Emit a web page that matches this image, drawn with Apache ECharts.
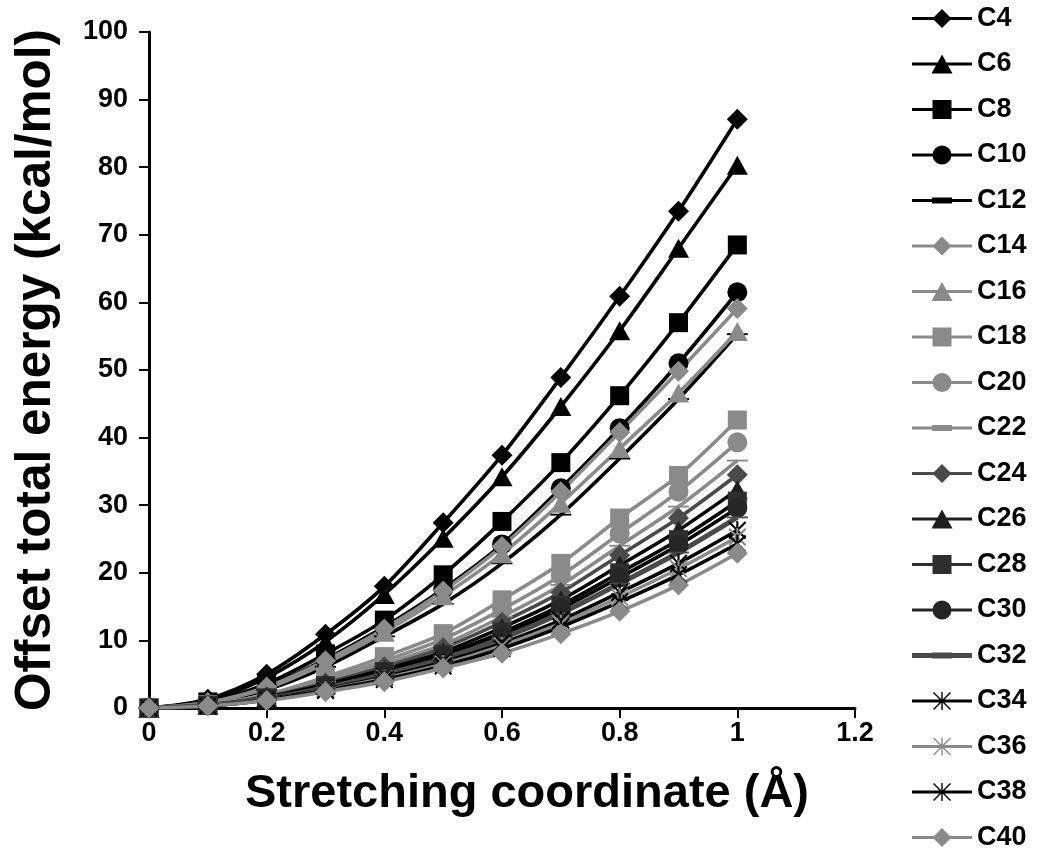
<!DOCTYPE html>
<html>
<head>
<meta charset="utf-8">
<script src="https://cdn.jsdelivr.net/npm/echarts@6/dist/echarts.min.js"></script>
<style>
  html, body { margin: 0; padding: 0; background: #fff; }
  #chart { width: 1038px; height: 856px; }
</style>
</head>
<body>
<div id="chart"></div>
<script>
// Stretching coordinate (Å)
const stretch = [0, 0.1, 0.2, 0.3, 0.4, 0.5, 0.6, 0.7, 0.8, 0.9, 1.0];
const xTickLabels = ['0', '0.2', '0.4', '0.6', '0.8', '1', '1.2'];
const yTickLabels = ['0', '10', '20', '30', '40', '50', '60', '70', '80', '90', '100'];

// Offset total energy (kcal/mol) per chain length
const chainNames = ['C4', 'C6', 'C8', 'C10', 'C12', 'C14', 'C16', 'C18', 'C20', 'C22',
                    'C24', 'C26', 'C28', 'C30', 'C32', 'C34', 'C36', 'C38', 'C40'];
const eC4  = [0, 1.3, 5.0, 10.9, 18.0, 27.4, 37.4, 48.9, 60.9, 73.5, 87.1];
const eC6  = [0, 1.1, 4.5, 9.8, 16.8, 25.1, 34.2, 44.6, 55.8, 68.0, 80.3];
const eC8  = [0, 0.9, 3.6, 8.0, 13.0, 19.7, 27.6, 36.3, 46.2, 57.0, 68.5];
const eC10 = [0, 0.8, 3.2, 7.2, 12.0, 17.6, 24.2, 32.5, 41.4, 51.0, 61.5];
const eC12 = [0, 0.7, 2.7, 6.1, 10.6, 15.4, 21.4, 28.6, 36.9, 45.7, 55.3];
const eC14 = [0, 0.8, 3.1, 7.0, 11.7, 17.3, 23.9, 32.0, 40.8, 49.8, 59.1];
const eC16 = [0, 0.8, 2.9, 6.6, 11.2, 16.6, 22.8, 30.3, 38.4, 46.6, 55.7];
const eC18 = [0, 0.5, 2.0, 4.6, 7.6, 11.0, 16.0, 21.4, 28.1, 34.4, 42.6];
const eC20 = [0, 0.5, 1.9, 4.2, 7.0, 10.2, 14.6, 19.6, 25.8, 32.0, 39.3];
const eC22 = [0, 0.5, 1.8, 3.9, 6.5, 9.4, 13.5, 18.2, 24.0, 29.8, 36.6];
const eC24 = [0, 0.4, 1.7, 3.7, 6.1, 8.9, 12.7, 17.1, 22.6, 28.1, 34.5];
const eC26 = [0, 0.4, 1.6, 3.5, 5.7, 8.3, 11.9, 16.0, 21.1, 26.3, 32.3];
const eC28 = [0, 0.4, 1.5, 3.3, 5.4, 7.9, 11.2, 15.2, 20.0, 24.9, 30.6];
const eC30 = [0, 0.4, 1.4, 3.2, 5.2, 7.6, 10.8, 14.7, 19.3, 24.1, 29.6];
const eC32 = [0, 0.4, 1.4, 3.0, 5.0, 7.3, 10.3, 14.0, 18.4, 23.0, 28.2];
const eC34 = [0, 0.3, 1.3, 2.8, 4.6, 6.8, 9.6, 13.0, 17.1, 21.4, 26.3];
const eC36 = [0, 0.3, 1.2, 2.7, 4.4, 6.5, 9.2, 12.5, 16.4, 20.6, 25.3];
const eC38 = [0, 0.3, 1.2, 2.6, 4.2, 6.2, 8.8, 12.0, 15.7, 19.7, 24.3];
const eC40 = [0, 0.3, 1.1, 2.4, 3.9, 5.9, 8.1, 11.0, 14.3, 18.2, 22.9];
const energies = [eC4, eC6, eC8, eC10, eC12, eC14, eC16, eC18, eC20, eC22,
                  eC24, eC26, eC28, eC30, eC32, eC34, eC36, eC38, eC40];

// Marker shapes and tones
const BLACK = '#000000';
const GRAY = '#8a8a8a';
const DARK = '#4a4a4a';
const DASH = 'path://M0,0h16v5h-16z';
const STAR = 'path://M4.4,0h1.2v10h-1.2z M0,0.8L0.8,0L10,9.2L9.2,10z M9.2,0L10,0.8L0.8,10L0,9.2z';

// Legend icons: line through a marker, drawn in a 60x22 box
const BOX = 'M0,0h0.01v0.01h-0.01z M59.99,21.99h0.01v0.01h-0.01z ';
const THIN = 'M0,9.5h60v3h-60z ';
const THICK = 'M0,8.5h60v5h-60z ';
const ICON_MARK = {
  diamond: 'M20.5,11L30,1.5L39.5,11L30,20.5z',
  triangle: 'M30,1.5L40.5,20.5L19.5,20.5z',
  rect: 'M20.5,1.5h19v19h-19z',
  circle: 'M20.5,11A9.5,9.5 0 1 1 39.5,11A9.5,9.5 0 1 1 20.5,11z',
  dash: 'M20,8h20v6h-20z',
  star: 'M29.3,2h1.4v18h-1.4z M21,3L22,2L39,19L38,20z M38,2L39,3L22,20L21,19z'
};

const styles = [
  { sym: 'diamond',  key: 'diamond',  size: [21, 21], line: BLACK, fill: BLACK },
  { sym: 'triangle', key: 'triangle', size: [21, 19], line: BLACK, fill: BLACK },
  { sym: 'rect',     key: 'rect',     size: [19, 19], line: BLACK, fill: BLACK },
  { sym: 'circle',   key: 'circle',   size: [20, 20], line: BLACK, fill: BLACK },
  { sym: DASH,       key: 'dash',     size: [21, 6],  line: BLACK, fill: BLACK },
  { sym: 'diamond',  key: 'diamond',  size: [21, 21], line: GRAY,  fill: GRAY },
  { sym: 'triangle', key: 'triangle', size: [21, 19], line: GRAY,  fill: GRAY },
  { sym: 'rect',     key: 'rect',     size: [19, 19], line: GRAY,  fill: GRAY },
  { sym: 'circle',   key: 'circle',   size: [20, 20], line: GRAY,  fill: GRAY },
  { sym: DASH,       key: 'dash',     size: [21, 6],  line: GRAY,  fill: GRAY },
  { sym: 'diamond',  key: 'diamond',  size: [21, 21], line: DARK,  fill: DARK },
  { sym: 'triangle', key: 'triangle', size: [21, 19], line: BLACK, fill: '#1e1e1e' },
  { sym: 'rect',     key: 'rect',     size: [19, 19], line: BLACK, fill: '#2e2e2e' },
  { sym: 'circle',   key: 'circle',   size: [20, 20], line: BLACK, fill: '#262626' },
  { sym: DASH,       key: 'dash',     size: [21, 6],  line: DARK,  fill: DARK, width: 5, thick: true },
  { sym: STAR,       key: 'star',     size: [18, 18], line: BLACK, fill: BLACK },
  { sym: STAR,       key: 'star',     size: [18, 18], line: GRAY,  fill: GRAY },
  { sym: STAR,       key: 'star',     size: [18, 18], line: BLACK, fill: BLACK },
  { sym: 'diamond',  key: 'diamond',  size: [21, 21], line: GRAY,  fill: GRAY }
];

const FONT = '"Liberation Sans", Arial, sans-serif';

const series = chainNames.map((name, i) => ({
  name: name,
  type: 'line',
  smooth: 0.3,
  data: stretch.map((x, j) => [x, energies[i][j]]),
  symbol: styles[i].sym,
  symbolSize: styles[i].size,
  symbolKeepAspect: true,
  showAllSymbol: true,
  lineStyle: { color: styles[i].line, width: styles[i].width || 3.6 },
  itemStyle: { color: styles[i].fill, borderWidth: 0 },
  emphasis: { disabled: true },
  animation: false
}));

const legendData = chainNames.map((name, i) => ({
  name: name,
  icon: 'path://' + BOX + (styles[i].thick ? THICK : THIN) + ICON_MARK[styles[i].key]
}));

const chart = echarts.init(document.getElementById('chart'), null, { renderer: 'canvas' });
chart.setOption({
  backgroundColor: '#ffffff',
  animation: false,
  grid: { left: 149, top: 32, right: 183, bottom: 148, containLabel: false, outerBoundsMode: 'none' },
  xAxis: {
    type: 'value',
    min: 0, max: 1.2, interval: 0.2,
    name: 'Stretching coordinate (Å)',
    nameLocation: 'middle',
    nameGap: 63,
    nameTextStyle: { fontFamily: FONT, fontWeight: 'bold', fontSize: 47, color: '#000', padding: [0, 0, 0, 50] },
    axisLine: { onZero: false, lineStyle: { color: '#000', width: 3 } },
    axisTick: { inside: false, length: 10, lineStyle: { color: '#000', width: 2 } },
    axisLabel: {
      margin: 12, fontFamily: FONT, fontWeight: 'bold', fontSize: 27, color: '#000',
      formatter: (v) => xTickLabels[Math.round(v / 0.2)]
    },
    splitLine: { show: false }
  },
  yAxis: {
    type: 'value',
    min: 0, max: 100, interval: 10,
    name: 'Offset total energy (kcal/mol)',
    nameLocation: 'middle',
    nameGap: 88,
    nameTextStyle: { fontFamily: FONT, fontWeight: 'bold', fontSize: 49.5, color: '#000' },
    axisLine: { show: true, lineStyle: { color: '#000', width: 3 } },
    axisTick: { show: true, inside: false, length: 10, lineStyle: { color: '#000', width: 2 } },
    axisLabel: {
      margin: 21, fontFamily: FONT, fontWeight: 'bold', fontSize: 27, color: '#000',
      formatter: (v) => yTickLabels[Math.round(v / 10)]
    },
    splitLine: { show: false }
  },
  legend: {
    orient: 'vertical',
    left: 912,
    top: 5,
    padding: 0,
    itemWidth: 60,
    itemHeight: 22,
    itemGap: 18.5,
    data: legendData,
    textStyle: { fontFamily: FONT, fontWeight: 'bold', fontSize: 27, lineHeight: 27, color: '#000' },
    selectedMode: false
  },
  series: series
});
</script>
</body>
</html>
